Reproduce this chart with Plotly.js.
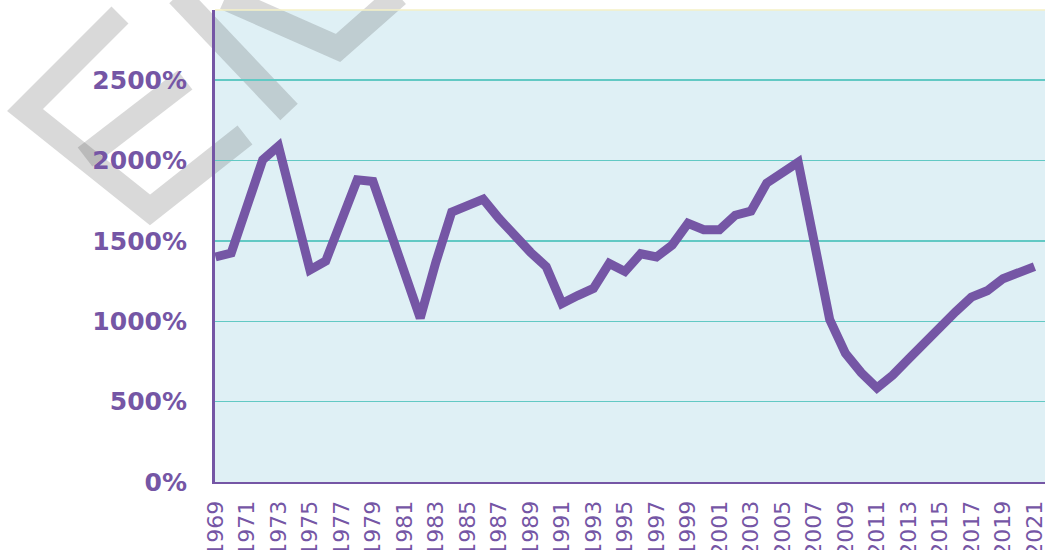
<!DOCTYPE html>
<html>
<head>
<meta charset="utf-8">
<script src="https://cdn.plot.ly/plotly-3.0.1.min.js"></script>
<style>html,body{margin:0;padding:0;background:#fff;}#chart{width:1045px;height:550px;}</style>
</head>
<body>
<div id="chart"></div>
<script>
const years = [1969,1970,1971,1972,1973,1974,1975,1976,1977,1978,1979,1980,1981,1982,1983,1984,1985,1986,1987,1988,1989,1990,1991,1992,1993,1994,1995,1996,1997,1998,1999,2000,2001,2002,2003,2004,2005,2006,2007,2008,2009,2010,2011,2012,2013,2014,2015,2016,2017,2018,2019,2020,2021];
const values = [1400,1425,1715,2005,2090,1700,1320,1375,1645,1880,1870,1590,1300,1020,1370,1680,1720,1760,1640,1530,1430,1340,1110,1160,1205,1360,1310,1420,1400,1475,1610,1570,1570,1660,1685,1860,1925,1990,1500,1010,800,680,585,665,765,870,965,1060,1150,1190,1265,1300,1340];
const yTickVals = [0,500,1000,1500,2000,2500];
const yTickText = ['0%','500%','1000%','1500%','2000%','2500%'];
const xTickVals = years.filter((y,i)=> i%2===0);
const xTickText = xTickVals.map(String);

const PURPLE = '#7556a5';
const W = 1045, H = 550, ML = 215, MR = 0, MT = 10, MB = 68;
const PW = W-ML-MR, PH = H-MT-MB;
function px(p){ return [(p[0]-ML)/PW, (H-MB-p[1])/PH]; }
function pathOf(pts){ return pts.map((p,i)=>{const q=px(p);return (i?'L':'M')+q[0].toFixed(4)+','+q[1].toFixed(4);}).join(' '); }
const wmStrokes = [
  [[120,15],[25,110],[150,210],[245,135]],
  [[85,157],[185,80]],
  [[178,-5],[289,112]],
  [[225,-2],[338,48],[398,-5]]
];
const shapes = wmStrokes.map(s=>({type:'path',xref:'paper',yref:'paper',path:pathOf(s),
  line:{color:'rgba(52,52,52,0.19)',width:24},layer:'below'}));
shapes.push({type:'line',xref:'paper',yref:'paper',x0:0,x1:1,y0:1,y1:1,line:{color:'#f4f0c6',width:1.5},layer:'above'});

const trace = {x:years,y:values,type:'scatter',mode:'lines',
  line:{color:PURPLE,width:9,shape:'linear'},hoverinfo:'skip'};

const layout = {
  width:W,height:H,
  margin:{l:ML,r:MR,t:MT,b:MB,pad:0},
  paper_bgcolor:'#ffffff',plot_bgcolor:'#dff0f5',
  showlegend:false,
  xaxis:{range:[1968.97,2021.67],tickmode:'array',tickvals:xTickVals,ticktext:xTickText,
    tickangle:-90,showgrid:false,zeroline:false,showline:true,linecolor:PURPLE,linewidth:2,
    ticks:'',ticklabelstandoff:8,ticklabeloverflow:'allow',
    tickfont:{family:'DejaVu Sans',size:22,color:PURPLE}},
  yaxis:{range:[0,2937],tickmode:'array',tickvals:yTickVals,ticktext:yTickText,
    showgrid:true,gridcolor:'#62c9c4',gridwidth:1.5,zeroline:false,showline:true,linecolor:PURPLE,linewidth:3,
    ticks:'',ticklabelstandoff:20,
    tickfont:{family:'DejaVu Sans',size:25,color:PURPLE,weight:'bold'}},
  shapes:shapes
};
Plotly.newPlot('chart',[trace],layout,{staticPlot:true,displayModeBar:false});
</script>
</body>
</html>
